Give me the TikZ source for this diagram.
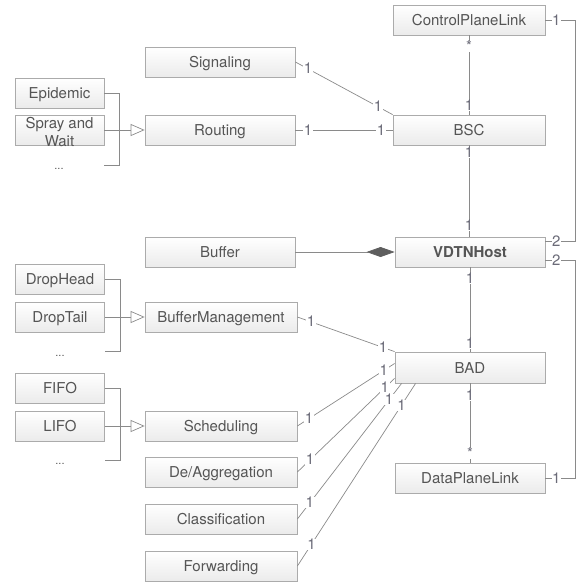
\documentclass[tikz,border=0pt]{standalone}
\usepackage{fontspec}
\setmainfont{TeX Gyre Heros}
\usetikzlibrary{arrows.meta,calc}
\definecolor{txt}{HTML}{555555}
\definecolor{bord}{HTML}{ABABAB}
\definecolor{boxbot}{HTML}{EBEBEB}
\definecolor{conncol}{HTML}{8A8A8A}
\definecolor{lblcol}{HTML}{6B6B78}
\definecolor{diam}{HTML}{5E5E5E}
\tikzset{
  umlbox/.style={draw=bord, line width=0.8pt, top color=white, bottom color=boxbot,
    minimum height=30pt, inner sep=0pt, text=txt, text height=11pt, text depth=0pt,
    font=\fontsize{15}{15}\selectfont},
  wide/.style={umlbox, minimum width=150pt},
  narrow/.style={umlbox, minimum width=89pt},
  conn/.style={draw=conncol, line width=0.7pt},
  lbl/.style={fill=white, inner sep=0.5pt, text=lblcol, text height=10pt, text depth=0pt,
    font=\fontsize{15}{15}\selectfont},
  dotsl/.style={text=txt, font=\fontsize{11}{11}\selectfont},
  inherit/.style={conn, -{Triangle[open, length=14pt, width=12pt, line width=0.7pt]}},
  compos/.style={conn, -{Diamond[length=28pt, width=10pt, color=diam, fill=diam]}},
}
\begin{document}
\begin{tikzpicture}[x=1pt, y=-1pt]
\useasboundingbox (0,0) rectangle (581,584);
% nodes
\node[wide, minimum width=152pt] (cpl) at (469,20) {ControlPlaneLink};
\node[wide] (sig) at (220,62) {Signaling};
\node[narrow] (epi) at (59.5,93) {Epidemic};
\node[narrow, align=center, text height=, text depth=, font=\fontsize{15}{18}\selectfont] (spray) at (59.5,130) {};
\node[text=txt, align=center, inner sep=0pt, font=\fontsize{15}{17.5}\selectfont] (spraytxt) at (59.5,132) {Spray and\\Wait};
\node[dotsl] (d1) at (59,169) {...};
\node[wide] (rout) at (220,130) {Routing};
\node[wide, minimum width=152pt] (bsc) at (469,130) {BSC};
\node[wide] (buf) at (220,252) {Buffer};
\node[wide, font=\fontsize{15}{15}\selectfont\bfseries] (host) at (470,252) {VDTNHost};
\node[narrow] (dh) at (60,279) {DropHead};
\node[narrow] (dt) at (60,317) {DropTail};
\node[dotsl] (d2) at (60,356) {...};
\node[wide, minimum width=152pt] (bm) at (221,317) {BufferManagement};
\node[wide, minimum height=31pt] (bad) at (470,367.5) {BAD};
\node[narrow] (fifo) at (60,388) {FIFO};
\node[narrow] (lifo) at (60,426) {LIFO};
\node[dotsl] (d3) at (60,464) {...};
\node[wide, minimum width=152pt] (sch) at (221,426) {Scheduling};
\node[wide, minimum width=152pt] (deag) at (221,472) {De/Aggregation};
\node[wide] (dpl) at (470,478) {DataPlaneLink};
\node[wide, minimum width=152pt] (cls) at (221,519) {Classification};
\node[wide, minimum width=152pt] (fwd) at (221,566) {Forwarding};

% inheritance brackets
\draw[conn] (epi.east) -- ++(15,0) |- ($(spray.east)+(0,35)$);
\draw[inherit] (spray.east) -- (rout.west);
\draw[conn] (dh.east) -- ++(15,0) |- ($(dt.east)+(0,34)$);
\draw[inherit] (dt.east) -- (bm.west);
\draw[conn] (fifo.east) -- ++(15,0) |- ($(lifo.east)+(0,34)$);
\draw[inherit] (lifo.east) -- (sch.west);

% associations
\draw[conn] (sig.east) -- node[lbl, pos=0.13]{1} node[lbl, pos=0.85]{1} (bsc.north west);
\draw[conn] (rout.east) -- node[lbl, pos=0.13]{1} node[lbl, pos=0.88]{1} (bsc.west);
\draw[conn] (cpl.south) -- node[lbl, pos=0.14]{*} node[lbl, pos=0.89]{1} (bsc.north);
\draw[conn] (bsc.south) -- node[lbl, pos=0.08]{1} node[lbl, pos=0.88]{1} (host.north -| bsc.south);
\draw[compos] (buf.east) -- (host.west);
\draw[conn] (host.south) -- node[lbl, pos=0.13]{1} node[lbl, pos=0.9]{1} (bad.north);
\draw[conn] (bad.south) -- node[lbl, pos=0.15]{1} node[lbl, pos=0.88]{*} (dpl.north);

\draw[conn] (bm.east) -- node[lbl, pos=0.14]{1} node[lbl, pos=0.88]{1} (bad.north west);
\draw[conn] (sch.east) -- node[lbl, pos=0.12]{1} node[lbl, pos=0.89]{1} ($(bad.west)+(0,-4)$);
\draw[conn] (deag.east) -- node[lbl, pos=0.13]{1} node[lbl, pos=0.9]{1} ($(bad.south west)+(0,-5)$);
\draw[conn] (cls.east) -- node[lbl, pos=0.12]{1} node[lbl, pos=0.88]{1} ($(bad.south west)+(7,0)$);
\draw[conn] (fwd.east) -- node[lbl, pos=0.12]{1} node[lbl, pos=0.88]{1} ($(bad.south west)+(21,0)$);

% right-side links
\coordinate (h1) at ($(host.east)+(0,-11)$);
\coordinate (h2) at ($(host.east)+(0,8)$);
\coordinate (r1) at ($(cpl.east)+(30,0)$);
\coordinate (r2) at ($(h2)+(30,0)$);
\draw[conn] (cpl.east) -- node[lbl, pos=0.36]{1} (r1) |- (h1);
\draw[conn] (h1) -- node[lbl, pos=0.36]{2} (h1 -| r1);
\draw[conn] (h2) -- node[lbl, pos=0.36]{2} (r2) |- (dpl.east);
\draw[conn] (dpl.east) -- node[lbl, pos=0.36]{1} (dpl.east -| r2);
\end{tikzpicture}
\end{document}
